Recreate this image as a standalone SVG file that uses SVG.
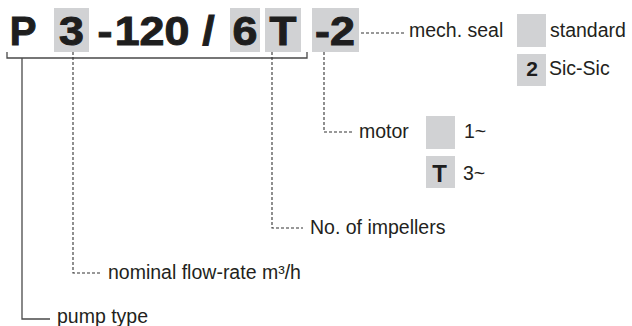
<svg xmlns="http://www.w3.org/2000/svg" width="632" height="326" viewBox="0 0 632 326">
<style>
.box{fill:#d1d2d4}
.big{font-family:"Liberation Sans",Arial,sans-serif;font-weight:bold;font-size:40px;fill:#1e1e1e;stroke:#1e1e1e;stroke-width:1;text-anchor:middle}
.lbl{font-family:"Liberation Sans",Arial,sans-serif;font-size:19.5px;fill:#231f20}
.key{font-family:"Liberation Sans",Arial,sans-serif;font-weight:bold;fill:#1e1e1e;text-anchor:middle}
.solid{fill:none;stroke:#4a4a4a;stroke-width:1.3}
.dash{fill:none;stroke:#333;stroke-width:1.1;stroke-dasharray:3 2}
</style>
<rect width="632" height="326" fill="#fff"/>
<g id="code">
<rect class="box" x="54" y="8" width="35" height="44"/>
<rect class="box" x="230" y="8" width="30" height="44"/>
<rect class="box" x="265" y="8" width="36" height="44"/>
<rect class="box" x="312" y="8" width="47" height="44"/>
<text class="big" transform="translate(23,45)">P</text>
<text class="big" transform="translate(71.5,45) scale(1.12,1)">3</text>
<text class="big" transform="translate(105,45) scale(1.12,1)">-</text>
<text class="big" transform="translate(152,45) scale(1.12,1)">120</text>
<text class="big" transform="translate(208.5,45) scale(1.12,1)">/</text>
<text class="big" transform="translate(245,45) scale(1.12,1)">6</text>
<text class="big" transform="translate(283,45) scale(1.1,1)">T</text>
<text class="big" transform="translate(335,45) scale(1.12,1)">-2</text>
</g>
<g id="connectors">
<path class="solid" d="M7,52 V58 H307 V52"/>
<path class="solid" d="M22,58 V319 H50"/>
<path class="dash" d="M73,52 V273 H102"/>
<path class="dash" d="M272,52 V228 H303"/>
<path class="dash" d="M324,52 V132 H354"/>
<path class="dash" d="M361,33 H405"/>
</g>
<g id="mech-seal">
<text class="lbl" x="409" y="37">mech. seal</text>
</g>
<g id="seal-standard">
<rect class="box" x="517" y="14" width="29" height="33"/>
<text class="lbl" x="550" y="37">standard</text>
</g>
<g id="seal-sic">
<rect class="box" x="517" y="54" width="29" height="32"/>
<text class="key" x="532" y="76" font-size="21">2</text>
<text class="lbl" x="549" y="75">Sic-Sic</text>
</g>
<g id="motor">
<text class="lbl" x="359" y="138">motor</text>
</g>
<g id="motor-1">
<rect class="box" x="426" y="116" width="29" height="33"/>
<text class="lbl" x="464" y="138">1~</text>
</g>
<g id="motor-3">
<rect class="box" x="426" y="156" width="29" height="32"/>
<text class="key" x="439.5" y="182" font-size="24">T</text>
<text class="lbl" x="463" y="180">3~</text>
</g>
<g id="impellers">
<text class="lbl" x="310" y="234">No. of impellers</text>
</g>
<g id="flow-rate">
<text class="lbl" x="108" y="279">nominal flow-rate m³/h</text>
</g>
<g id="pump-type">
<text class="lbl" x="57" y="323">pump type</text>
</g>
</svg>
